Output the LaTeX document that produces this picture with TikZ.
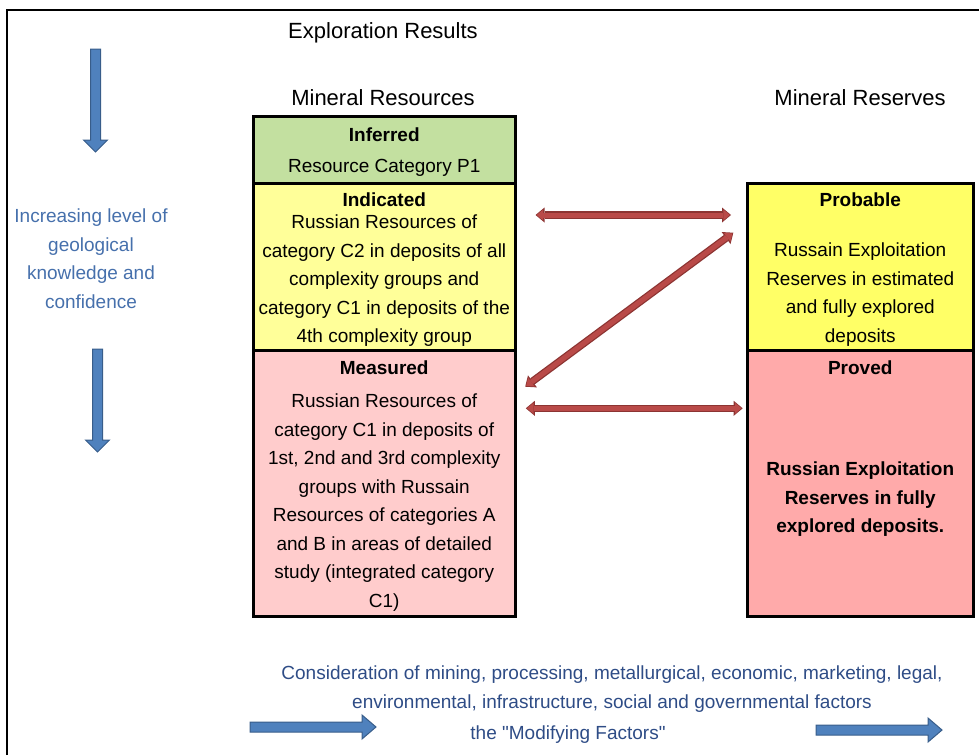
\documentclass[tikz,border=0pt]{standalone}
\usepackage{fontspec}
\setmainfont{Liberation Sans}[Ligatures=TeXOff]
\usetikzlibrary{positioning,arrows.meta}

\definecolor{infgreen}{RGB}{195,224,160}
\definecolor{indyellow}{RGB}{255,255,153}
\definecolor{meapink}{RGB}{255,204,204}
\definecolor{prbyellow}{RGB}{255,255,102}
\definecolor{prvpink}{RGB}{255,170,170}
\definecolor{notblue}{RGB}{70,112,172}
\definecolor{factblue}{RGB}{46,76,134}
\definecolor{arrblue}{RGB}{79,129,189}
\definecolor{arrblueline}{RGB}{56,93,138}
\definecolor{arrred}{RGB}{185,74,72}
\definecolor{arrdark}{RGB}{140,52,50}

\tikzset{
	catbox/.style={draw, line width=2.5pt, anchor=north west, inner sep=0pt},
	boxtext/.style={inner sep=0pt, align=center, font=\fontsize{19}{28.5}\selectfont},
	heading/.style={inner sep=0pt, font=\fontsize{22}{26}\selectfont},
	bluenote/.style={inner sep=0pt, align=center, text=notblue, font=\fontsize{19}{28.5}\selectfont},
	factnote/.style={inner sep=0pt, align=center, text=factblue, font=\fontsize{19}{29}\selectfont},
	blockarrow/.style={fill=arrblue, draw=arrblueline, line width=1pt, line join=miter},
	twoway/.style={line width=5pt, draw=arrred, shorten <=1.2pt, shorten >=1.2pt,
		{Triangle[length=6.5pt,width=11pt,line width=0pt]}-{Triangle[length=6.5pt,width=11pt,line width=0pt]},
		preaction={draw=arrdark, line width=7.5pt, shorten <=0pt, shorten >=0pt,
			arrows={Triangle[length=9pt,width=15pt,line width=0pt]}-{Triangle[length=9pt,width=15pt,line width=0pt]}}}
}

\begin{document}
\begin{tikzpicture}[x=1pt,y=1pt]
	\useasboundingbox (0,0) rectangle (979,-755);
	\draw[line width=2pt] (7,-755) -- (7,-10) -- (979,-10);

	\node[heading] (expl) at (383,-33) {Exploration Results};
	\node[heading] (mres) at (383,-98) {Mineral Resources};
	\node[heading] (mrsv) at (860,-98) {Mineral Reserves};

	% resources column
	\node[catbox, fill=infgreen, minimum width=262pt, minimum height=67pt] (inf) at (252,-115) {};
	\node[catbox, fill=indyellow, minimum width=262pt, minimum height=167pt] (ind) at (252,-182) {};
	\node[catbox, fill=meapink, minimum width=262pt, minimum height=266pt] (mea) at (252,-349) {};

	% reserves column
	\node[catbox, fill=prbyellow, minimum width=226pt, minimum height=167pt] (prb) at (746,-182) {};
	\node[catbox, fill=prvpink, minimum width=226pt, minimum height=266pt] (prv) at (746,-349) {};

	\node[boxtext, below=13pt of inf.north] (inftxt) {\textbf{Inferred}\\[2.5pt] Resource Category P1};
	\node[boxtext, below=11pt of ind.north] (indtxt) {\textbf{Indicated}\\[-6.5pt] Russian Resources of\\ category C2 in deposits of all\\ complexity groups and\\ category C1 in deposits of the\\ 4th complexity group};
	\node[boxtext, below=12pt of mea.north] (meatxt) {\textbf{Measured}\\[4.5pt] Russian Resources of\\ category C1 in deposits of\\ 1st, 2nd and 3rd complexity\\ groups with Russain\\ Resources of categories A\\ and B in areas of detailed\\ study (integrated category\\ C1)};
	\node[boxtext, below=11pt of prb.north] (prbtxt) {\textbf{Probable}\\[21.5pt] Russain Exploitation\\ Reserves in estimated\\ and fully explored\\ deposits};
	\node[boxtext, below=12pt of prv.north] (prvtxt) {\textbf{Proved}\\[72.5pt] \textbf{Russian Exploitation}\\ \textbf{Reserves in fully}\\ \textbf{explored deposits.}};

	% links between categories
	\draw[twoway] ([xshift=19pt,yshift=-33pt]ind.north east) -- ([xshift=-15pt,yshift=-33pt]prb.north west);
	\draw[twoway] ([xshift=8.7pt,yshift=-37.7pt]mea.north east) -- ([xshift=-12.7pt,yshift=-50.7pt]prb.north west);
	\draw[twoway] ([xshift=9.3pt,yshift=-59.3pt]mea.north east) -- ([xshift=-3.3pt,yshift=-59.3pt]prv.north west);

	% confidence
	\node[bluenote, anchor=north] (conf) at (91,-209) {Increasing level of\\ geological\\ knowledge and\\ confidence};
	\draw[blockarrow] (90.5,-49) -- ++(10,0) -- ++(0,-91) -- ++(7,0) -- ++(-12,-12) -- ++(-12,12) -- ++(7,0) -- cycle;
	\draw[blockarrow] (92.5,-349) -- ++(10,0) -- ++(0,-91) -- ++(7,0) -- ++(-12,-12) -- ++(-12,12) -- ++(7,0) -- cycle;

	% modifying factors
	\node[factnote, anchor=north] (fact) at (612,-666) {Consideration of mining, processing, metallurgical, economic, marketing, legal,\\ environmental, infrastructure, social and governmental factors};
	\node[factnote, anchor=north] (modf) at (568,-726) {the "Modifying Factors"};
	\draw[blockarrow] (250,-722) -- ++(112,0) -- ++(0,7) -- ++(14,-12) -- ++(-14,-12) -- ++(0,7) -- ++(-112,0) -- cycle;
	\draw[blockarrow] (816,-725) -- ++(112,0) -- ++(0,7) -- ++(14,-12) -- ++(-14,-12) -- ++(0,7) -- ++(-112,0) -- cycle;
\end{tikzpicture}
\end{document}
